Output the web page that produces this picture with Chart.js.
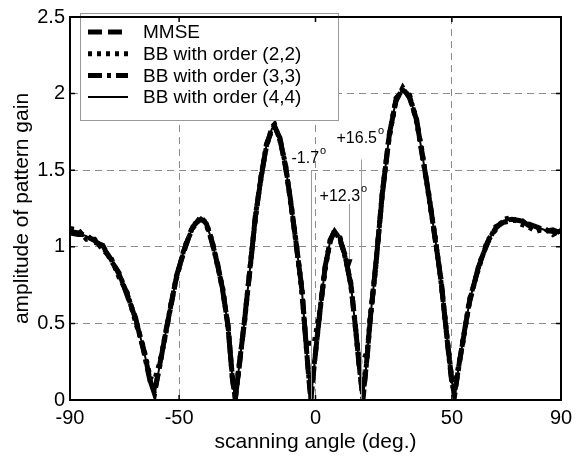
<!DOCTYPE html>
<html>
<head>
<meta charset="utf-8">
<script src="https://cdn.jsdelivr.net/npm/chart.js"></script>
<style>
  body { margin: 0; background: #fff; }
  canvas { display: block; }
</style>
</head>
<body>
<canvas id="gainChart" width="584" height="458"></canvas>
<script>
// scanning angle (deg.) samples
const angles = [-90, -87, -84, -81, -78, -75, -72, -69, -66, -63,
  -60.5, -59, -57, -55, -53, -51, -48, -45, -42, -40,
  -38, -36, -34, -32, -30.5, -29.4, -28, -26, -24, -22,
  -20, -18, -16, -15, -13, -11, -9, -7, -5, -3.5,
  -2.5, -1.7, -0.5, 1.5, 3.5, 5.5, 7, 9, 11, 13,
  14.5, 16, 17.4, 19, 20, 22, 24.5, 27, 29.5, 32,
  34.5, 37, 39, 41.5, 44, 46, 48.5, 50, 51, 52.5,
  54, 56.5, 60, 63, 66, 69, 72, 75, 78, 81,
  84, 87, 90];

const mmse = [1.10, 1.09, 1.07, 1.04, 1.00, 0.92, 0.82, 0.69, 0.53, 0.33,
  0.12, 0.04, 0.24, 0.43, 0.62, 0.80, 0.99, 1.13, 1.19, 1.15,
  1.04, 0.89, 0.72, 0.47, 0.15, 0.00, 0.22, 0.52, 0.86, 1.20,
  1.45, 1.66, 1.77, 1.79, 1.70, 1.53, 1.28, 1.01, 0.72, 0.38,
  0.15, 0.00, 0.22, 0.56, 0.86, 1.05, 1.10, 1.05, 0.93, 0.75,
  0.50, 0.23, 0.00, 0.30, 0.52, 0.86, 1.35, 1.72, 1.96, 2.03,
  1.98, 1.83, 1.62, 1.34, 1.04, 0.78, 0.36, 0.12, 0.03, 0.22,
  0.38, 0.65, 0.88, 1.03, 1.12, 1.17, 1.18, 1.17, 1.15, 1.13,
  1.11, 1.10, 1.10];

const bb22 = [1.12, 1.11, 1.05, 1.05, 0.98, 0.93, 0.80, 0.70, 0.51, 0.34,
  0.14, 0.13, 0.25, 0.42, 0.63, 0.79, 1.00, 1.12, 1.20, 1.14,
  1.05, 0.88, 0.73, 0.46, 0.16, 0.04, 0.23, 0.51, 0.87, 1.19,
  1.46, 1.65, 1.78, 1.80, 1.69, 1.54, 1.27, 1.02, 0.71, 0.38,
  0.37, 0.37, 0.37, 0.57, 0.85, 1.06, 1.09, 1.06, 0.92, 0.76,
  0.49, 0.25, 0.25, 0.32, 0.53, 0.85, 1.36, 1.71, 1.97, 2.02,
  1.99, 1.82, 1.63, 1.33, 1.05, 0.77, 0.37, 0.13, 0.08, 0.23,
  0.37, 0.66, 0.87, 1.04, 1.11, 1.18, 1.19, 1.15, 1.13, 1.10,
  1.12, 1.08, 1.11];

const bb33 = [1.09, 1.08, 1.08, 1.03, 1.01, 0.91, 0.83, 0.68, 0.54, 0.32,
  0.11, 0.06, 0.23, 0.44, 0.61, 0.81, 0.98, 1.14, 1.18, 1.16,
  1.03, 0.90, 0.71, 0.48, 0.14, 0.01, 0.21, 0.53, 0.85, 1.21,
  1.44, 1.67, 1.76, 1.78, 1.71, 1.52, 1.29, 1.00, 0.73, 0.37,
  0.16, 0.02, 0.23, 0.55, 0.87, 1.04, 1.11, 1.04, 0.94, 0.74,
  0.51, 0.22, 0.02, 0.29, 0.51, 0.87, 1.34, 1.73, 1.95, 2.04,
  1.97, 1.84, 1.61, 1.35, 1.03, 0.79, 0.35, 0.11, 0.05, 0.21,
  0.39, 0.64, 0.89, 1.02, 1.13, 1.16, 1.17, 1.18, 1.14, 1.12,
  1.10, 1.11, 1.09];

const bb44 = [1.10, 1.09, 1.07, 1.04, 1.00, 0.92, 0.82, 0.69, 0.53, 0.33,
  0.12, 0.03, 0.24, 0.43, 0.62, 0.80, 0.99, 1.13, 1.19, 1.15,
  1.04, 0.89, 0.72, 0.47, 0.15, 0.00, 0.22, 0.52, 0.86, 1.20,
  1.45, 1.66, 1.77, 1.79, 1.70, 1.53, 1.28, 1.01, 0.72, 0.38,
  0.15, 0.00, 0.22, 0.56, 0.86, 1.05, 1.10, 1.05, 0.93, 0.75,
  0.50, 0.23, 0.00, 0.30, 0.52, 0.86, 1.35, 1.72, 1.96, 2.03,
  1.98, 1.83, 1.62, 1.34, 1.04, 0.78, 0.36, 0.12, 0.03, 0.22,
  0.38, 0.65, 0.88, 1.03, 1.12, 1.17, 1.18, 1.17, 1.15, 1.13,
  1.11, 1.10, 1.10];

const seriesLabels = ['MMSE', 'BB with order (2,2)', 'BB with order (3,3)', 'BB with order (4,4)'];
const xTicks = [-90, -50, 0, 50, 90];
const yTicks = [0, 0.5, 1, 1.5, 2, 2.5];

// marked angles and their labels
const markAngles = [-1.7, 16.5, 12.3];
const markLabels = ['-1.7', '+16.5', '+12.3'];

const FONT = '"Liberation Sans", Arial, Helvetica, sans-serif';
const toPts = ys => angles.map((a, i) => ({ x: a, y: ys[i] }));

/* legend box drawn inside the plot, top left */
const legendBox = {
  id: 'legendBox',
  afterDatasetsDraw(chart) {
    const ctx = chart.ctx;
    const x0 = 80, y0 = 13, w = 258, h = 107;
    ctx.save();
    ctx.fillStyle = '#fff';
    ctx.fillRect(x0, y0, w, h);
    ctx.strokeStyle = '#999';
    ctx.lineWidth = 1;
    ctx.strokeRect(x0 + 0.5, y0 + 0.5, w, h);
    chart.data.datasets.forEach((ds, i) => {
      const y = y0 + 19 + i * 21.7;
      ctx.beginPath();
      ctx.setLineDash(ds.borderDash || []);
      ctx.lineWidth = ds.borderWidth;
      ctx.strokeStyle = ds.borderColor;
      ctx.moveTo(x0 + 8, y);
      ctx.lineTo(x0 + 48, y);
      ctx.stroke();
      ctx.setLineDash([]);
      ctx.fillStyle = '#000';
      ctx.font = '19px ' + FONT;
      ctx.textBaseline = 'middle';
      ctx.fillText(ds.label, x0 + 63, y + 1);
    });
    ctx.restore();
  }
};

/* angle markers, box frame and inward ticks */
const extras = {
  id: 'extras',
  afterDatasetsDraw(chart) {
    const { ctx, scales: { x, y } } = chart;
    const lines = [[1.50, 0], [1.57, 0], [1.28, 0.88]];
    const textPos = [[-8.8, 1.55], [7.7, 1.68], [1.5, 1.30]];
    ctx.save();
    ctx.strokeStyle = '#9a9a9a';
    ctx.lineWidth = 1;
    markAngles.forEach((a, i) => {
      const px = Math.round(x.getPixelForValue(a)) + 0.5;
      ctx.beginPath();
      ctx.moveTo(px, y.getPixelForValue(lines[i][0]));
      ctx.lineTo(px, y.getPixelForValue(lines[i][1]));
      ctx.stroke();
      const tx = x.getPixelForValue(textPos[i][0]);
      const ty = y.getPixelForValue(textPos[i][1]);
      ctx.fillStyle = '#000';
      ctx.textBaseline = 'alphabetic';
      ctx.font = '16px ' + FONT;
      ctx.fillText(markLabels[i], tx, ty);
      const tw = ctx.measureText(markLabels[i]).width;
      ctx.font = '11px ' + FONT;
      ctx.fillText('o', tx + tw + 1, ty - 9);
    });
    // arrow head on the +12.3 marker
    const ax = Math.round(x.getPixelForValue(12.3)) + 0.5;
    const ay = y.getPixelForValue(0.86);
    ctx.fillStyle = '#000';
    ctx.beginPath();
    ctx.moveTo(ax - 3, ay - 9);
    ctx.lineTo(ax + 3, ay - 9);
    ctx.lineTo(ax, ay);
    ctx.closePath();
    ctx.fill();
    ctx.restore();
  },
  afterDraw(chart) {
    const { ctx, chartArea: a, scales: { x, y } } = chart;
    ctx.save();
    ctx.strokeStyle = '#000';
    ctx.lineWidth = 1.5;
    ctx.beginPath();
    xTicks.forEach(v => {
      const px = x.getPixelForValue(v);
      ctx.moveTo(px, a.bottom); ctx.lineTo(px, a.bottom - 5);
      ctx.moveTo(px, a.top); ctx.lineTo(px, a.top + 5);
    });
    yTicks.forEach(v => {
      const py = y.getPixelForValue(v);
      ctx.moveTo(a.left, py); ctx.lineTo(a.left + 5, py);
      ctx.moveTo(a.right, py); ctx.lineTo(a.right - 5, py);
    });
    ctx.stroke();
    ctx.lineWidth = 2;
    ctx.strokeRect(a.left, a.top, a.right - a.left, a.bottom - a.top);
    ctx.restore();
  }
};

const styles = [
  { borderWidth: 5, borderDash: [14, 6] },
  { borderWidth: 5, borderDash: [4, 5] },
  { borderWidth: 5, borderDash: [14, 5, 4, 5] },
  { borderWidth: 2, borderDash: [] }
];

const ctx = document.getElementById('gainChart').getContext('2d');
new Chart(ctx, {
  type: 'line',
  data: {
    datasets: [mmse, bb22, bb33, bb44].map((ys, i) => ({
      label: seriesLabels[i],
      data: toPts(ys),
      borderColor: '#000',
      borderWidth: styles[i].borderWidth,
      borderDash: styles[i].borderDash,
      pointRadius: 0,
      fill: false,
      tension: 0
    }))
  },
  options: {
    responsive: false,
    animation: false,
    devicePixelRatio: 1,
    layout: { padding: { top: 12, right: 23, left: 0, bottom: 0 } },
    plugins: { legend: { display: false }, tooltip: { enabled: false } },
    scales: {
      x: {
        type: 'linear',
        min: -90,
        max: 90,
        afterBuildTicks: s => { s.ticks = xTicks.map(v => ({ value: v })); },
        afterFit: s => { s.height = 58; },
        ticks: { color: '#000', font: { family: FONT, size: 20 }, padding: 6, maxRotation: 0, callback: v => String(v) },
        grid: { color: '#8a8a8a', lineWidth: 1, drawTicks: false },
        border: { display: true, color: '#000', width: 2, dash: [7, 5] },
        title: { display: true, text: 'scanning angle (deg.)', color: '#000', font: { family: FONT, size: 21 }, padding: { top: 0, bottom: 3 } }
      },
      y: {
        min: 0,
        max: 2.5,
        afterBuildTicks: s => { s.ticks = yTicks.map(v => ({ value: v })); },
        afterFit: s => { s.width = 70; },
        ticks: { color: '#000', font: { family: FONT, size: 20 }, padding: 5, callback: v => String(v) },
        grid: { color: '#8a8a8a', lineWidth: 1, drawTicks: false },
        border: { display: true, color: '#000', width: 2, dash: [7, 5] },
        title: { display: true, text: 'amplitude of pattern gain', color: '#000', font: { family: FONT, size: 21 }, padding: { top: 10, bottom: 0 } }
      }
    }
  },
  plugins: [legendBox, extras]
});
</script>
</body>
</html>
